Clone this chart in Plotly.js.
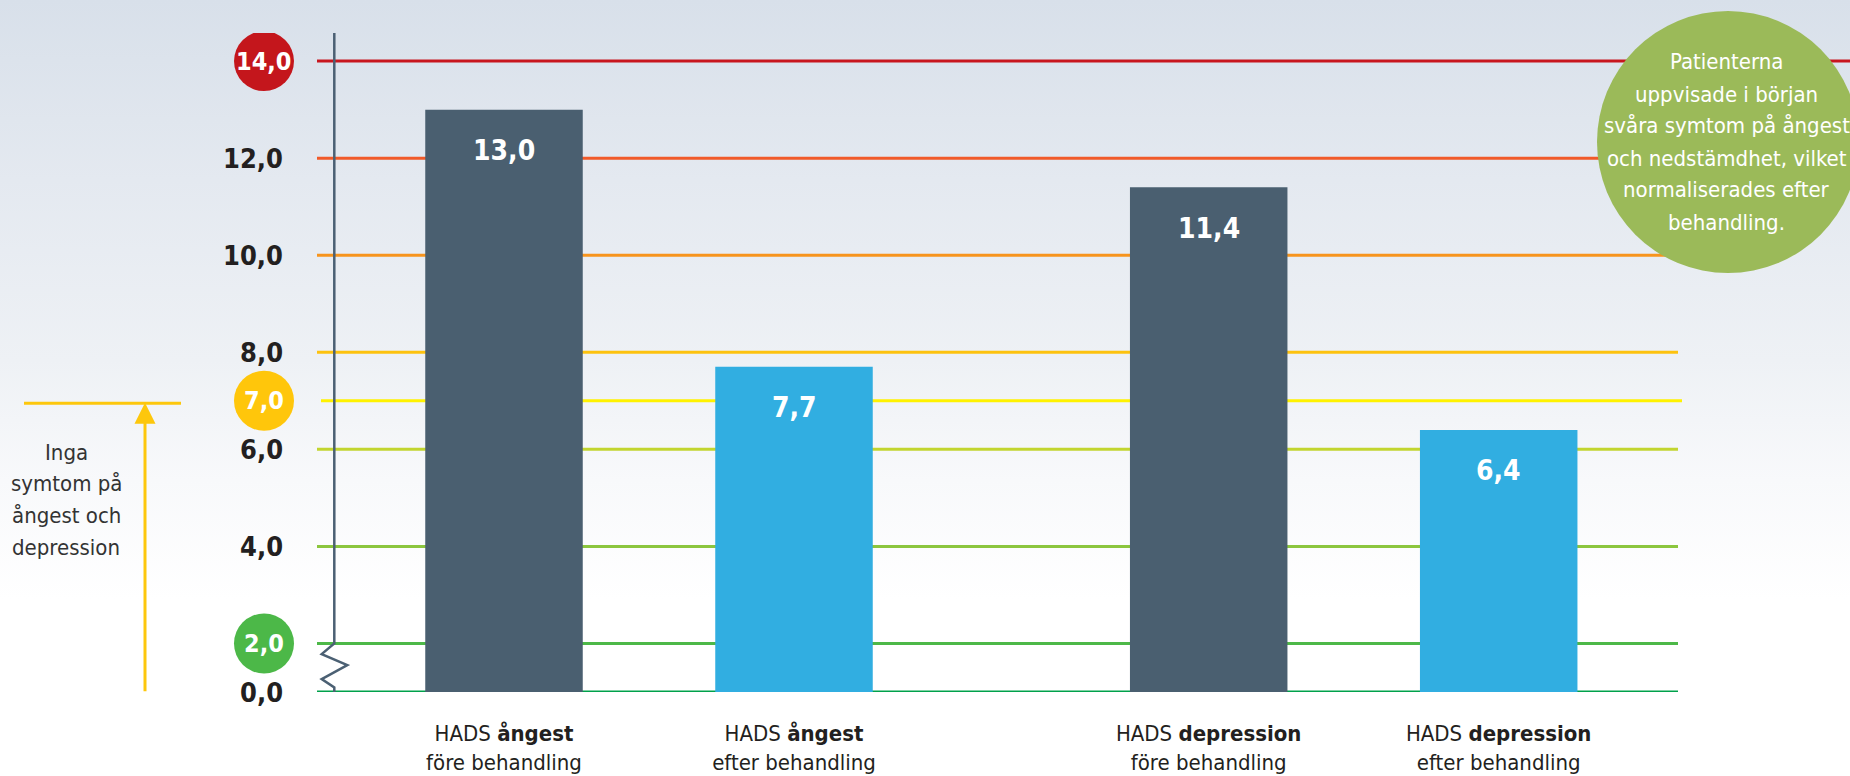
<!DOCTYPE html>
<html>
<head>
<meta charset="utf-8">
<script src="https://cdn.plot.ly/plotly-3.0.1.min.js"></script>
<style>
  html, body { margin: 0; padding: 0; width: 1850px; height: 776px; overflow: hidden;
    background: linear-gradient(to bottom, #d8e0ea 0px, #e4e9f0 180px, #eef1f5 360px, #f8f9fb 480px, #ffffff 600px); }
  #chart { width: 1850px; height: 776px; }
</style>
</head>
<body>
<div id="chart"></div>
<script>
// ---- data ----
const categories = [
  'HADS <b>ångest</b><br>före behandling',
  'HADS <b>ångest</b><br>efter behandling',
  'HADS <b>depression</b><br>före behandling',
  'HADS <b>depression</b><br>efter behandling'
];
const values = [13.0, 7.7, 11.4, 6.4];
const valueLabels = ['13,0', '7,7', '11,4', '6,4'];
const levels = [0, 2, 4, 6, 7, 8, 10, 12, 14];
const levelLabels = ['0,0', '2,0', '4,0', '6,0', '7,0', '8,0', '10,0', '12,0', '14,0'];
const noteLines = ['Inga', 'symtom på', 'ångest och', 'depression'];
const bubbleLines = ['Patienterna', 'uppvisade i början', 'svåra symtom på ångest', 'och nedstämdhet, vilket', 'normaliserades efter', 'behandling.'];

// ---- styles ----
const barColors = ['#4a5f70', '#31aee1', '#4a5f70', '#31aee1'];
const levelColors = {0:'#00a14b', 2:'#4db848', 4:'#8cc63e', 6:'#c2d52f', 7:'#fff200', 8:'#fdc20f', 10:'#f7941d', 12:'#f15a29', 14:'#c8161e'};
const badgeColors = {2:'#4cb848', 7:'#ffc60b', 14:'#c4161c'};
const COND = '"DejaVu Sans Condensed", "Liberation Sans Narrow", sans-serif';

// layout geometry (pixels)
const W = 1850, H = 776;
const L = 317, R = 1678, T = 33, B = 692;
const GROUP_GAP = 0.43;
const xpos = categories.map((c, i) => i + (i >= 2 ? GROUP_GAP : 0));
const unit = 290;                       // px per x unit
const xmin = -(504 - L) / unit;
const xmax = xmin + (R - L) / unit;
const brk = v => (v === 0 ? 1 : v);     // broken axis: 0 drawn at position 1
const pxPerY = 48.53;
const ytop = 1 + (B - T) / pxPerY;
const px2paperX = p => (p - L) / (R - L);
const px2paperY = p => (B - p) / (B - T);

const shapes = [];
// coloured level lines
levels.forEach(v => {
  let x0 = 0, x1 = 1;
  if (v === 12 || v === 14) x1 = px2paperX(W + 5);
  if (v === 7) { x0 = px2paperX(321); x1 = px2paperX(1682); }
  shapes.push({type:'line', xref:'paper', yref:'y', x0:x0, x1:x1, y0:brk(v), y1:brk(v),
    line:{color:levelColors[v], width:3}, layer:'below'});
});
// vertical axis with break zigzag
const ax = px2paperX(334.3);
const zz = [[334.3, 2], [321.7, 1.782], [347.3, 1.555], [321.7, 1.267], [334.3, 1.094], [334.3, 1.0]];
let path = 'M ' + ax + ',' + ytop + ' L ' + ax + ',2';
zz.forEach(p => { path += ' L ' + px2paperX(p[0]) + ',' + p[1]; });
shapes.push({type:'path', xref:'paper', yref:'y', path:path, line:{color:'#4b6073', width:2.5}, layer:'above'});
// badges behind special tick labels
Object.keys(badgeColors).forEach(k => {
  const v = +k;
  shapes.push({type:'circle', xref:'paper', yref:'y', xsizemode:'pixel', ysizemode:'pixel',
    xanchor:px2paperX(264), yanchor:brk(v), x0:-30, x1:30, y0:-30, y1:30,
    fillcolor:badgeColors[v], line:{width:0}, layer:'above'});
});
// yellow marker line at 7
shapes.push({type:'line', xref:'paper', yref:'y', x0:px2paperX(24), x1:px2paperX(181),
  y0:7 - 0.05, y1:7 - 0.05, line:{color:'#fdc70c', width:3}});
// big green bubble
shapes.push({type:'circle', xref:'paper', yref:'paper', xsizemode:'pixel', ysizemode:'pixel',
  xanchor:px2paperX(1728), yanchor:px2paperY(142), x0:-131, x1:131, y0:-131, y1:131,
  fillcolor:'#9bba59', line:{width:0}, layer:'above'});

const annotations = [];
// y tick labels
levels.forEach((v, i) => {
  const badge = badgeColors[v] !== undefined;
  annotations.push({xref:'paper', yref:'y', x: badge ? px2paperX(264) : px2paperX(285), y:brk(v),
    xanchor: badge ? 'center' : 'right', yanchor:'middle', showarrow:false,
    text:levelLabels[i], font:{family:COND, size: badge ? 25 : 27, color: badge ? '#ffffff' : '#231f20', weight:'bold'}});
});
// bar value labels
values.forEach((v, i) => {
  annotations.push({x:xpos[i], y:v, yshift:-41, xanchor:'center', yanchor:'middle', showarrow:false,
    text:valueLabels[i], font:{family:COND, size:28, color:'#ffffff', weight:'bold'}});
});
// arrow
annotations.push({xref:'paper', yref:'y', x:px2paperX(145), y:7 - 0.04, text:'', showarrow:true,
  ax:0, ay:290, arrowhead:2, arrowsize:1.4, arrowwidth:3, arrowcolor:'#fdc70c', standoff:0});
// left note
noteLines.forEach((t, i) => {
  annotations.push({xref:'paper', yref:'paper', x:px2paperX(66), y:px2paperY(452 + 31.7 * i), xanchor:'center', yanchor:'middle',
    showarrow:false, text:t, font:{family:COND, size:22, color:'#333333'}});
});
// bubble text
bubbleLines.forEach((t, i) => {
  annotations.push({xref:'paper', yref:'paper', x:px2paperX(1727), y:px2paperY(62 + 32 * i), xanchor:'center', yanchor:'middle',
    showarrow:false, text:t, font:{family:COND, size:22, color:'#ffffff'}});
});

const trace = {
  type:'bar', x:xpos, y:values, width:157.5 / unit,
  marker:{color:barColors, line:{width:0}}, hoverinfo:'skip', showlegend:false
};

const layout = {
  width:W, height:H,
  margin:{l:L, r:W - R, t:T, b:H - B, pad:0},
  paper_bgcolor:'rgba(0,0,0,0)', plot_bgcolor:'rgba(0,0,0,0)',
  showlegend:false,
  xaxis:{range:[xmin, xmax], tickvals:xpos, ticktext:categories, showgrid:false, zeroline:false,
    showline:false, ticks:'', ticklabelstandoff:26,
    tickfont:{family:COND, size:22, color:'#231f20'}, fixedrange:true},
  yaxis:{range:[1, ytop], showgrid:false, zeroline:false, showline:false, showticklabels:false,
    ticks:'', fixedrange:true},
  shapes:shapes, annotations:annotations
};

Plotly.newPlot('chart', [trace], layout, {displayModeBar:false, staticPlot:true});
</script>
</body>
</html>
